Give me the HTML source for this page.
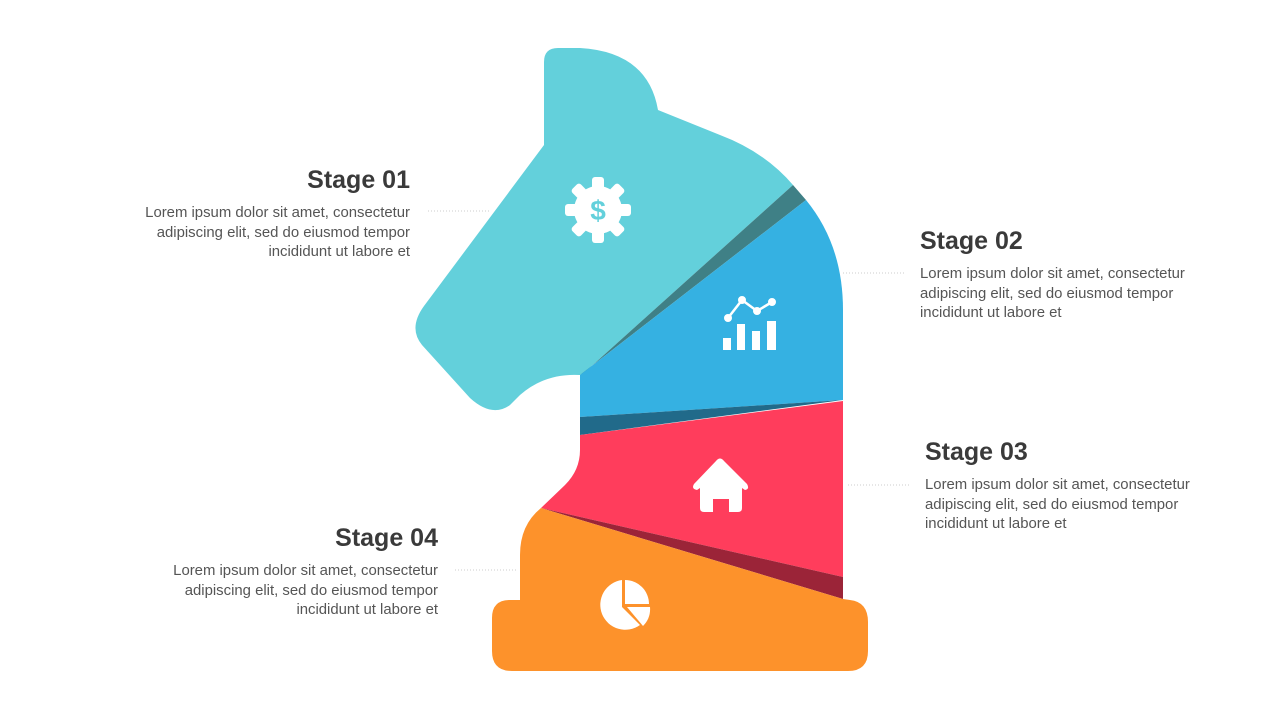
<!DOCTYPE html>
<html><head><meta charset="utf-8"><style>
body{margin:0;width:1280px;height:720px;background:#fff;overflow:hidden;position:relative;font-family:"Liberation Sans",Arial,sans-serif;}
.t{position:absolute;color:#3a3a3a;font-weight:bold;font-size:25px;line-height:30px;}
.b{position:absolute;color:#555;font-size:14.9px;line-height:19.5px;white-space:nowrap;}
.r{text-align:right}
</style></head><body>
<svg width="1280" height="720" style="position:absolute;left:0;top:0">
<g stroke="#ccc" stroke-width="1" stroke-dasharray="1,2">
<line x1="428" y1="211" x2="490" y2="211"/>
<line x1="843" y1="273" x2="905" y2="273"/>
<line x1="848" y1="485" x2="910" y2="485"/>
<line x1="455" y1="570" x2="518" y2="570"/>
</g>
<path d="M544,145 L544,62 Q544,48 558,48 L580,48 Q648,52 658,110 L720,135 Q765,152 793,185 L585,372 L580,375 Q545,373 520,395 L510,405 Q492,418 470,398 L422,345 Q408,328 424,306 Z" fill="#63d0db"/>
<path d="M793,185 L806,200 L580,375 L585,372 Z" fill="#3f8086"/>
<path d="M806,200 Q843,245 843,310 L843,400 L580,417 L580,375 Z" fill="#35b1e2"/>
<path d="M580,417 L843,400 L580,435 Z" fill="#216a8a"/>
<path d="M580,435 L843,401 L843,577 L541,508 L565,485 Q580,470 580,450 Z" fill="#ff3d5c"/>
<path d="M541,508 L843,577 L843,599 Z" fill="#9b2438"/>
<path d="M541,508 L843,599 L850,600 Q868,602 868,622 L868,651 Q868,671 848,671 L512,671 Q492,671 492,651 L492,618 Q492,600 510,600 L520,600 L520,555 Q520,525 541,508 Z" fill="#fd922b"/>
<g transform="translate(598,210)" fill="#fff">
<circle r="24"/>
<g id="tooth"><rect x="-6" y="-33" width="12" height="14" rx="3"/></g>
<use href="#tooth" transform="rotate(45)"/><use href="#tooth" transform="rotate(90)"/><use href="#tooth" transform="rotate(135)"/><use href="#tooth" transform="rotate(180)"/><use href="#tooth" transform="rotate(225)"/><use href="#tooth" transform="rotate(270)"/><use href="#tooth" transform="rotate(315)"/>
<text x="0" y="10" text-anchor="middle" font-size="28" font-weight="bold" fill="#63d0db" font-family="Liberation Sans">$</text>
</g>
<g fill="#fff" stroke="#fff">
<polyline points="728,318 742,300 757,311 772,302" fill="none" stroke-width="2.5"/>
<circle cx="728" cy="318" r="3.5"/><circle cx="742" cy="300" r="3.5"/><circle cx="757" cy="311" r="3.5"/><circle cx="772" cy="302" r="3.5"/>
<g stroke="none"><rect x="723" y="338" width="8" height="12"/><rect x="737" y="324" width="8" height="26"/><rect x="752" y="331" width="8" height="19"/><rect x="767" y="321" width="9" height="29"/></g>
</g>
<g fill="#fff">
<path d="M694,484 L716,461 Q720,456 724,461 L747,484 Q750,489 745,490 L742,488 L742,508 Q742,512 738,512 L729,512 L729,499 L713,499 L713,512 L704,512 Q700,512 700,508 L700,488 L697,490 Q691,489 694,484 Z"/>
</g>
<g fill="#fff">
<path d="M622,580 L622,607 L640,625 A25,25 0 1 1 622,580 Z"/>
<path d="M625,580 A24,24 0 0 1 649,604 L625,604 Z"/>
<path d="M627,607 L650,607 A24,24 0 0 1 643,626 Z"/>
</g>
</svg>
<div class="t r" style="right:870px;top:165px">Stage 01</div>
<div class="b r" style="right:870px;top:204px">Lorem ipsum dolor sit amet, consectetur<br>adipiscing elit, sed do eiusmod tempor<br>incididunt ut labore et</div>
<div class="t" style="left:920px;top:226px">Stage 02</div>
<div class="b" style="left:920px;top:265px">Lorem ipsum dolor sit amet, consectetur<br>adipiscing elit, sed do eiusmod tempor<br>incididunt ut labore et</div>
<div class="t" style="left:925px;top:437px">Stage 03</div>
<div class="b" style="left:925px;top:476px">Lorem ipsum dolor sit amet, consectetur<br>adipiscing elit, sed do eiusmod tempor<br>incididunt ut labore et</div>
<div class="t r" style="right:842px;top:523px">Stage 04</div>
<div class="b r" style="right:842px;top:562px">Lorem ipsum dolor sit amet, consectetur<br>adipiscing elit, sed do eiusmod tempor<br>incididunt ut labore et</div>
</body></html>
